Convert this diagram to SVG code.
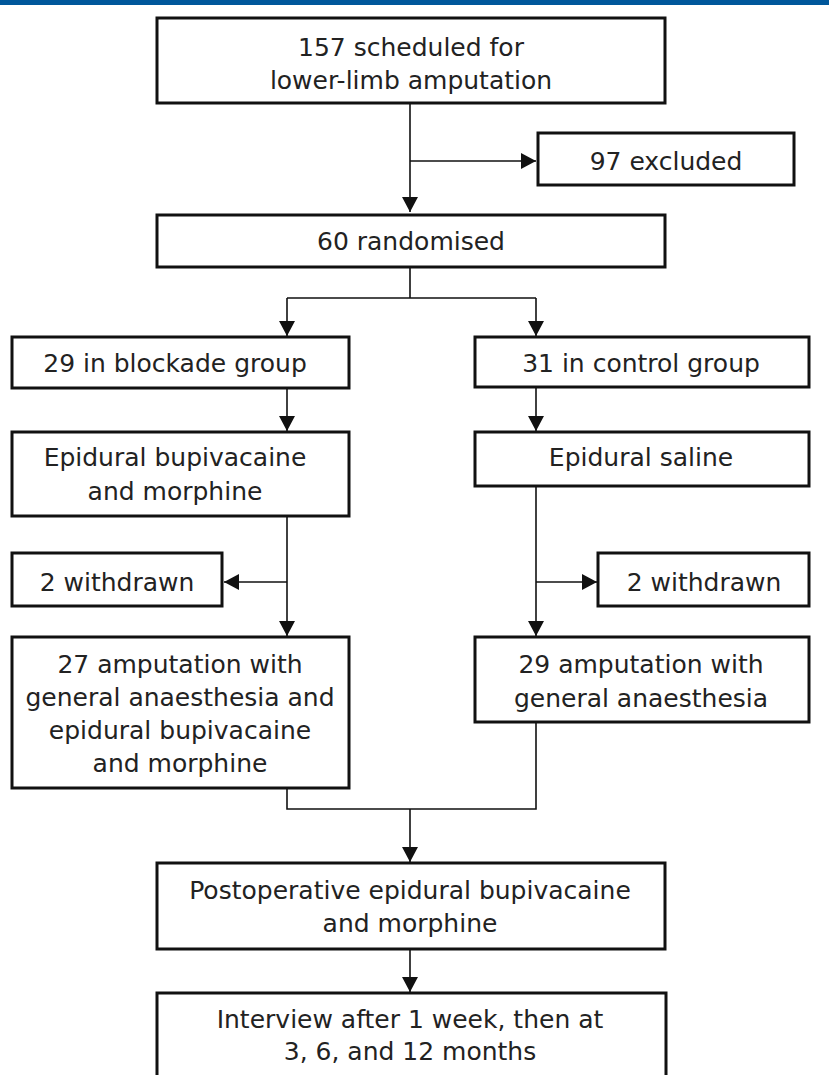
<svg xmlns="http://www.w3.org/2000/svg" width="829" height="1075" viewBox="0 0 829 1075">
<defs>
<style>
.box{fill:#fff;stroke:#111;stroke-width:3}
.t{font-family:"DejaVu Sans","Liberation Sans",sans-serif;font-size:25px;fill:#222;text-anchor:middle}
.c{fill:none;stroke:#111;stroke-width:1.6}
</style>
<marker id="ah" markerUnits="userSpaceOnUse" markerWidth="16" markerHeight="16" refX="15" refY="8" orient="auto">
<path d="M0,0 L15,8 L0,16 z" fill="#111"/>
</marker>
</defs>
<rect x="0" y="0" width="829" height="5" fill="#00579B"/>
<g id="connectors">
<path class="c" d="M410,103 V212" marker-end="url(#ah)"/>
<path class="c" d="M410,161 H536" marker-end="url(#ah)"/>
<path class="c" d="M410,267 V298 M287,298 H536"/>
<path class="c" d="M287,298 V336" marker-end="url(#ah)"/>
<path class="c" d="M536,298 V336" marker-end="url(#ah)"/>
<path class="c" d="M287,388 V431" marker-end="url(#ah)"/>
<path class="c" d="M536,387 V431" marker-end="url(#ah)"/>
<path class="c" d="M287,516 V636" marker-end="url(#ah)"/>
<path class="c" d="M287,582 H224" marker-end="url(#ah)"/>
<path class="c" d="M536,486 V636" marker-end="url(#ah)"/>
<path class="c" d="M536,582 H597" marker-end="url(#ah)"/>
<path class="c" d="M287,788 V809 H536 V722"/>
<path class="c" d="M410,809 V862" marker-end="url(#ah)"/>
<path class="c" d="M410,949 V992" marker-end="url(#ah)"/>
</g>
<g id="n-scheduled">
<rect class="box" x="157" y="18" width="508" height="85"/>
<text class="t" x="411" y="56">157 scheduled for</text>
<text class="t" x="411" y="89">lower-limb amputation</text>
</g>
<g id="n-excluded">
<rect class="box" x="538" y="133" width="256" height="52"/>
<text class="t" x="666" y="170">97 excluded</text>
</g>
<g id="n-randomised">
<rect class="box" x="157" y="215" width="508" height="52"/>
<text class="t" x="411" y="250">60 randomised</text>
</g>
<g id="n-blockade">
<rect class="box" x="12" y="337" width="337" height="51"/>
<text class="t" x="175" y="372">29 in blockade group</text>
</g>
<g id="n-control">
<rect class="box" x="475" y="337" width="334" height="50"/>
<text class="t" x="641" y="372">31 in control group</text>
</g>
<g id="n-epi-bup">
<rect class="box" x="12" y="432" width="337" height="84"/>
<text class="t" x="175" y="466">Epidural bupivacaine</text>
<text class="t" x="175" y="500">and morphine</text>
</g>
<g id="n-epi-saline">
<rect class="box" x="475" y="432" width="334" height="54"/>
<text class="t" x="641" y="466">Epidural saline</text>
</g>
<g id="n-withdrawn-left">
<rect class="box" x="12" y="553" width="210" height="53"/>
<text class="t" x="117" y="591">2 withdrawn</text>
</g>
<g id="n-withdrawn-right">
<rect class="box" x="598" y="553" width="211" height="53"/>
<text class="t" x="704" y="591">2 withdrawn</text>
</g>
<g id="n-amp-blockade">
<rect class="box" x="12" y="637" width="337" height="151"/>
<text class="t" x="180" y="673">27 amputation with</text>
<text class="t" x="180" y="706">general anaesthesia and</text>
<text class="t" x="180" y="739">epidural bupivacaine</text>
<text class="t" x="180" y="772">and morphine</text>
</g>
<g id="n-amp-control">
<rect class="box" x="475" y="637" width="334" height="85"/>
<text class="t" x="641" y="673">29 amputation with</text>
<text class="t" x="641" y="707">general anaesthesia</text>
</g>
<g id="n-postop">
<rect class="box" x="157" y="863" width="508" height="86"/>
<text class="t" x="410" y="899">Postoperative epidural bupivacaine</text>
<text class="t" x="410" y="932">and morphine</text>
</g>
<g id="n-interview">
<rect class="box" x="157" y="993" width="509" height="100"/>
<text class="t" x="410" y="1028">Interview after 1 week, then at</text>
<text class="t" x="410" y="1060">3, 6, and 12 months</text>
</g>
</svg>
